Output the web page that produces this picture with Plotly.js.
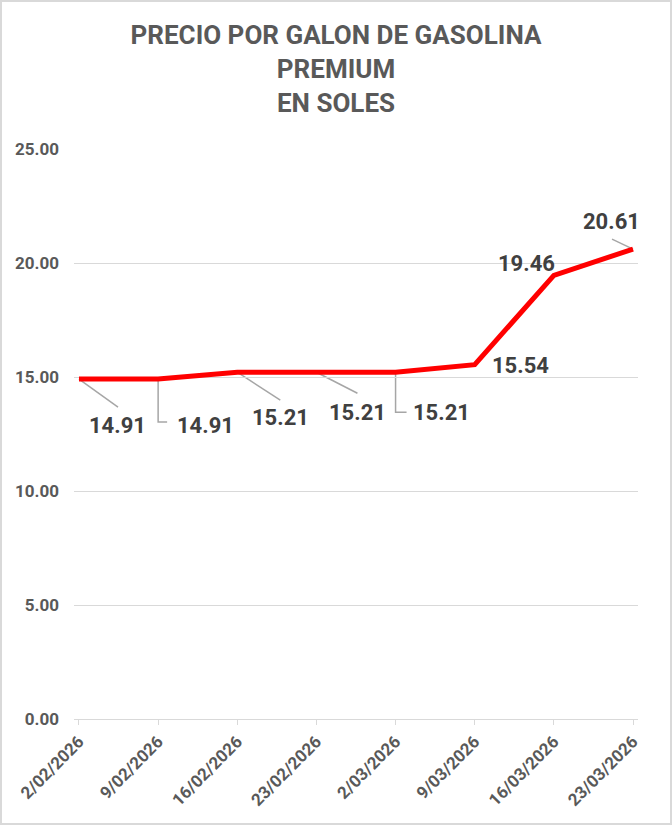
<!DOCTYPE html>
<html>
<head>
<meta charset="utf-8">
<script src="https://cdn.plot.ly/plotly-3.0.1.min.js"></script>
<style>
  html, body { margin: 0; padding: 0; background: #ffffff; }
  #wrap { position: relative; width: 672px; height: 825px; }
  #chart { width: 672px; height: 825px; }
  #frame { position: absolute; left: 0; top: 0; width: 672px; height: 825px; box-sizing: border-box;
           border: 2px solid #d9d9d9; pointer-events: none; }
</style>
</head>
<body>
<div id="wrap"><div id="chart"></div><div id="frame"></div></div>
<script>
// ---- data ----
const dates = ["2/02/2026", "9/02/2026", "16/02/2026", "23/02/2026", "2/03/2026", "9/03/2026", "16/03/2026", "23/03/2026"];
const prices = [14.91, 14.91, 15.21, 15.21, 15.21, 15.54, 19.46, 20.61];
const yTickVals = [0, 5, 10, 15, 20, 25];
const yTickText = ["0.00", "5.00", "10.00", "15.00", "20.00", "25.00"];
const titleText = "PRECIO POR GALON DE GASOLINA<br>PREMIUM<br>EN SOLES";

// ---- label placement (pixel offsets, screen: right/up positive) ----
const labelDx = [39, 47, 43, 41, 46, 46, -27, -22];
const labelDy = [-46, -46, -45, -40, -40, -1, 12, 28];
// leader paths in pixels relative to the point (up positive)
const leaders = [
  "M0,0 L39,-28",
  "M0,0 V-43 H9",
  "M0,0 L43,-28",
  "M0,0 L41,-21",
  "M0,0 V-40 H11",
  null,
  null,
  "M0,0 L-21,10"
];

const FONT = "Roboto, 'Liberation Sans', Arial, sans-serif";

const annotations = prices.map((p, i) => ({
  x: dates[i], y: p, xref: "x", yref: "y",
  text: p.toFixed(2), showarrow: false,
  xshift: labelDx[i], yshift: labelDy[i],
  font: { family: FONT, size: 22, color: "#404040", weight: "bold" }
}));

const shapes = [];
leaders.forEach((path, i) => {
  if (!path) return;
  shapes.push({
    type: "path", xref: "x", yref: "y",
    xsizemode: "pixel", ysizemode: "pixel",
    xanchor: i, yanchor: prices[i],
    path: path,
    line: { color: "#a6a6a6", width: 1.5 },
    layer: "below"
  });
});

const trace = {
  type: "scatter", mode: "lines",
  x: dates, y: prices,
  line: { color: "#ff0000", width: 5 },
  hoverinfo: "x+y"
};

const layout = {
  width: 672, height: 825,
  paper_bgcolor: "#ffffff", plot_bgcolor: "#ffffff",
  margin: { l: 74, r: 34, t: 149, b: 106 },
  showlegend: false,
  title: {
    text: titleText,
    x: 0.5, xref: "container", xanchor: "center",
    y: 0.9467, yref: "container", yanchor: "top",
    font: { family: FONT, size: 26, color: "#595959", weight: "bold" }
  },
  xaxis: {
    type: "category",
    range: [-0.063, 7.063],
    showgrid: false, zeroline: false,
    showline: true, linecolor: "#d9d9d9", linewidth: 1,
    ticks: "outside", tickcolor: "#d9d9d9", ticklen: 5, tickwidth: 1,
    tickangle: -45,
    tickfont: { family: FONT, size: 17, color: "#595959", weight: "bold" }
  },
  yaxis: {
    range: [0, 25],
    tickvals: yTickVals, ticktext: yTickText,
    showgrid: true, gridcolor: "#d9d9d9", gridwidth: 1,
    zeroline: false, showline: false, ticks: "",
    ticklabelstandoff: 14,
    tickfont: { family: FONT, size: 17, color: "#595959", weight: "bold" }
  },
  annotations: annotations,
  shapes: shapes
};

Plotly.newPlot("chart", [trace], layout, { displayModeBar: false, staticPlot: true });
</script>
</body>
</html>
